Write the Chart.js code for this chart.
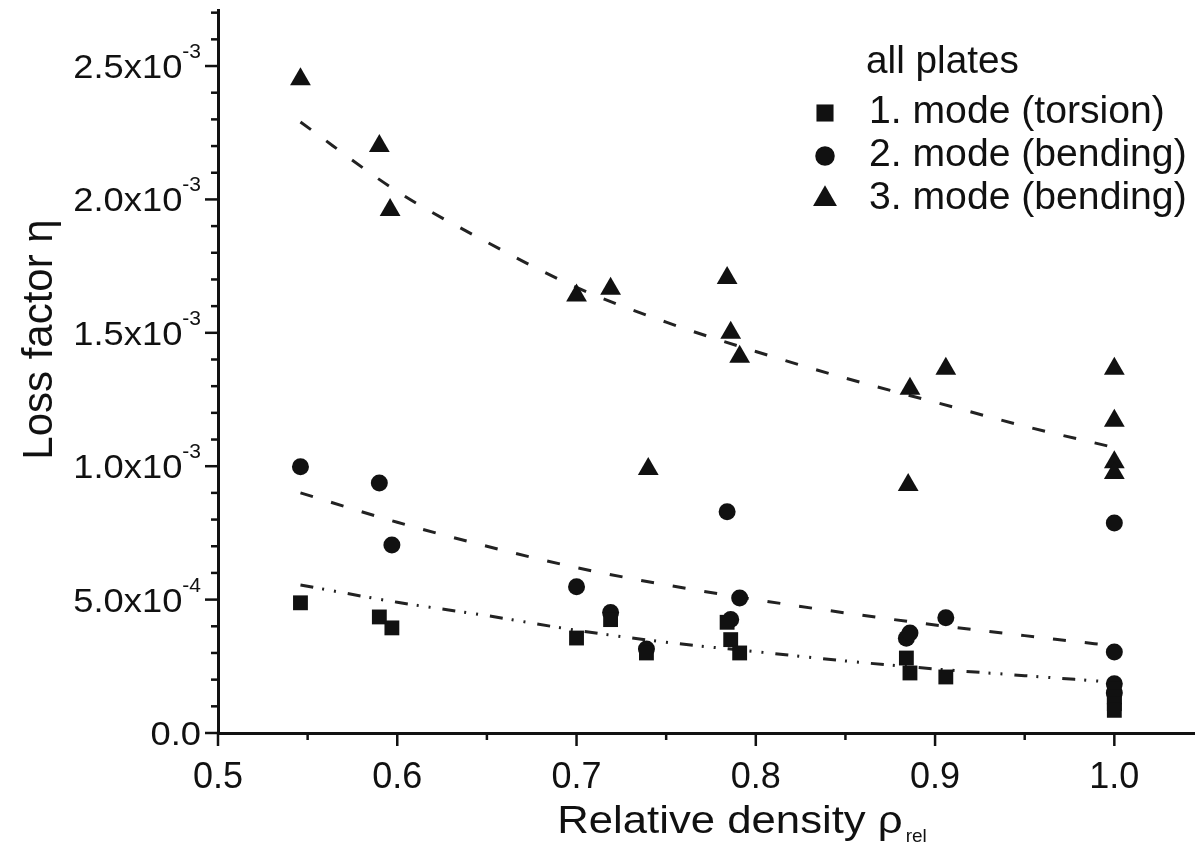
<!DOCTYPE html>
<html>
<head>
<meta charset="utf-8">
<script src="https://cdn.jsdelivr.net/npm/chart.js@4.4.1/dist/chart.umd.min.js"></script>
<style>
  html, body { margin: 0; padding: 0; background: #fff; }
  #wrap { width: 1195px; height: 847px; }
</style>
</head>
<body>
<div id="wrap"><canvas id="lossChart"></canvas></div>
<script>
// measured loss factors, one point per plate and mode
const mode1X = [0.546, 0.590, 0.597, 0.700, 0.719, 0.739, 0.784, 0.786, 0.791, 0.884, 0.886, 0.906, 1.0, 1.0, 1.0, 1.0];
const mode1Y = [4.88e-4, 4.35e-4, 3.94e-4, 3.56e-4, 4.25e-4, 3.00e-4, 4.15e-4, 3.50e-4, 3.00e-4, 2.81e-4, 2.25e-4, 2.10e-4, 1.65e-4, 1.35e-4, 1.10e-4, 0.85e-4];

const mode2X = [0.546, 0.590, 0.597, 0.700, 0.719, 0.739, 0.784, 0.786, 0.791, 0.884, 0.886, 0.906, 1.0, 1.0, 1.0, 1.0];
const mode2Y = [9.98e-4, 9.37e-4, 7.05e-4, 5.48e-4, 4.52e-4, 3.15e-4, 8.29e-4, 4.25e-4, 5.06e-4, 3.55e-4, 3.75e-4, 4.32e-4, 7.87e-4, 3.04e-4, 1.85e-4, 1.50e-4];

const mode3X = [0.546, 0.590, 0.596, 0.700, 0.719, 0.740, 0.784, 0.786, 0.791, 0.885, 0.886, 0.906, 1.0, 1.0, 1.0, 1.0];
const mode3Y = [2.45e-3, 2.20e-3, 1.96e-3, 1.64e-3, 1.665e-3, 0.99e-3, 1.705e-3, 1.50e-3, 1.41e-3, 0.93e-3, 1.29e-3, 1.365e-3, 1.365e-3, 1.17e-3, 1.015e-3, 0.975e-3];

// fitted trend lines
const fitX = [0.546, 0.6, 0.65, 0.7, 0.75, 0.8, 0.85, 0.9, 0.95, 1.0];
const fit1Y = [5.55e-4, 4.90e-4, 4.40e-4, 3.85e-4, 3.40e-4, 3.05e-4, 2.70e-4, 2.40e-4, 2.15e-4, 1.90e-4];
const fit2Y = [9.00e-4, 7.90e-4, 7.00e-4, 6.20e-4, 5.55e-4, 5.00e-4, 4.50e-4, 4.05e-4, 3.65e-4, 3.26e-4];
const fit3Y = [2.29e-3, 2.03e-3, 1.84e-3, 1.67e-3, 1.54e-3, 1.43e-3, 1.33e-3, 1.24e-3, 1.15e-3, 1.07e-3];

const xTicks = [0.5, 0.6, 0.7, 0.8, 0.9, 1.0];
const xTickLabels = ['0.5', '0.6', '0.7', '0.8', '0.9', '1.0'];
const yTicks = [0, 5e-4, 1e-3, 1.5e-3, 2e-3, 2.5e-3];
const yTickMantissa = ['0.0', '5.0x10', '1.0x10', '1.5x10', '2.0x10', '2.5x10'];
const yTickExponent = ['', '-4', '-3', '-3', '-3', '-3'];

const legendTitle = 'all plates';
const legendLabels = ['1. mode (torsion)', '2. mode (bending)', '3. mode (bending)'];

const FONT = '"Liberation Sans", Arial, sans-serif';
const INK = '#111';

const pts = (xs, ys) => xs.map((x, i) => ({ x: x, y: ys[i] }));

function text(ctx, str, x, y, size, sx, align) {
    ctx.save();
    ctx.font = size + 'px ' + FONT;
    ctx.textAlign = align || 'left';
    ctx.textBaseline = 'alphabetic';
    ctx.translate(x, y);
    ctx.scale(sx, 1);
    ctx.fillText(str, 0, 0);
    ctx.restore();
}

function textWidth(ctx, str, size, sx) {
    ctx.save();
    ctx.font = size + 'px ' + FONT;
    const w = ctx.measureText(str).width * sx;
    ctx.restore();
    return w;
}

function tick(ctx, x1, y1, x2, y2) {
    ctx.beginPath();
    ctx.moveTo(x1, y1);
    ctx.lineTo(x2, y2);
    ctx.stroke();
}

// ticks, tick labels, axis titles and legend
const decor = {
    id: 'decor',
    afterDraw(chart) {
        const { ctx, chartArea: area, scales: { x, y } } = chart;
        ctx.save();
        ctx.strokeStyle = INK;
        ctx.fillStyle = INK;
        ctx.lineWidth = 2.5;

        // y ticks, minor every 1e-4
        for (let i = 0; i * 1e-4 <= y.max; i++) {
            const py = y.getPixelForValue(i * 1e-4);
            tick(ctx, area.left - (i % 5 === 0 ? 13 : 7), py, area.left, py);
        }
        // x ticks, minor every 0.05
        for (let i = 0; 0.5 + i * 0.05 <= x.max; i++) {
            const px = x.getPixelForValue(0.5 + i * 0.05);
            tick(ctx, px, area.bottom, px, area.bottom + (i % 2 === 0 ? 13 : 7));
        }

        // y tick labels with exponent
        yTicks.forEach((v, i) => {
            const py = y.getPixelForValue(v);
            const right = area.left - 17;
            const expW = yTickExponent[i] ? textWidth(ctx, yTickExponent[i], 21, 1.0) : 0;
            if (expW) text(ctx, yTickExponent[i], right, py - 8, 21, 1.0, 'right');
            text(ctx, yTickMantissa[i], right - expW, py + 12, 33, 1.1, 'right');
        });

        // x tick labels
        xTicks.forEach((v, i) => {
            text(ctx, xTickLabels[i], x.getPixelForValue(v), area.bottom + 55, 36, 1.0, 'center');
        });

        // x title with subscript
        const main = 'Relative density \u03c1';
        const mainW = textWidth(ctx, main, 38, 1.15);
        const subW = textWidth(ctx, 'rel', 19, 1.0);
        const tx = (area.left + area.right) / 2 + 34 - (mainW + subW) / 2;
        text(ctx, main, tx, area.bottom + 100, 38, 1.15, 'left');
        text(ctx, 'rel', tx + mainW + 3, area.bottom + 109, 19, 1.0, 'left');

        // y title
        ctx.save();
        ctx.translate(area.left - 178, (area.top + area.bottom) / 2 - 32);
        ctx.rotate(-Math.PI / 2);
        ctx.font = '42px ' + FONT;
        ctx.textAlign = 'center';
        ctx.textBaseline = 'middle';
        ctx.fillText('Loss factor \u03b7', 0, 0);
        ctx.restore();

        // legend
        const lx = area.right - 370;
        text(ctx, legendTitle, lx + 41, area.top + 63, 38, 1.02, 'left');
        legendLabels.forEach((label, i) => {
            const base = area.top + 113 + i * 43;
            const ds = chart.data.datasets[i];
            ctx.fillStyle = INK;
            Chart.helpers.drawPoint(ctx, {
                pointStyle: ds.pointStyle,
                radius: ds.pointRadius * 1.15,
                rotation: 0,
                borderWidth: 0
            }, lx, base - 10);
            text(ctx, label, lx + 44, base, 38, 1.03, 'left');
        });
        ctx.restore();
    }
};

const ctx = document.getElementById('lossChart').getContext('2d');
const lossChart = new Chart(ctx, {
    type: 'scatter',
    data: {
        datasets: [
            { label: legendLabels[0], data: pts(mode1X, mode1Y), pointStyle: 'rect', pointRadius: 10.5, backgroundColor: INK, borderWidth: 0 },
            { label: legendLabels[1], data: pts(mode2X, mode2Y), pointStyle: 'circle', pointRadius: 8.5, backgroundColor: INK, borderWidth: 0 },
            { label: legendLabels[2], data: pts(mode3X, mode3Y), pointStyle: 'triangle', pointRadius: 12, backgroundColor: INK, borderWidth: 0 },
            { type: 'line', data: pts(fitX, fit1Y), borderColor: '#222', borderWidth: 3, borderDash: [13, 9, 2, 10, 2, 12], pointRadius: 0, fill: false, cubicInterpolationMode: 'monotone' },
            { type: 'line', data: pts(fitX, fit2Y), borderColor: '#222', borderWidth: 3, borderDash: [13, 19], pointRadius: 0, fill: false, cubicInterpolationMode: 'monotone' },
            { type: 'line', data: pts(fitX, fit3Y), borderColor: '#222', borderWidth: 3, borderDash: [13, 19], pointRadius: 0, fill: false, cubicInterpolationMode: 'monotone' }
        ]
    },
    options: {
        responsive: true,
        maintainAspectRatio: false,
        animation: false,
        layout: { autoPadding: false, padding: { top: 10, right: 0, left: 0, bottom: 0 } },
        plugins: { legend: { display: false }, tooltip: { enabled: false } },
        scales: {
            x: {
                type: 'linear', min: 0.5, max: 1.045,
                ticks: { display: false },
                grid: { display: false },
                border: { display: true, color: INK, width: 3 },
                afterFit(scale) { scale.height = 114; }
            },
            y: {
                type: 'linear', min: 0, max: 2.71e-3,
                ticks: { display: false },
                grid: { display: false },
                border: { display: true, color: INK, width: 3 },
                afterFit(scale) { scale.width = 218; }
            }
        }
    },
    plugins: [decor]
});
</script>
</body>
</html>
